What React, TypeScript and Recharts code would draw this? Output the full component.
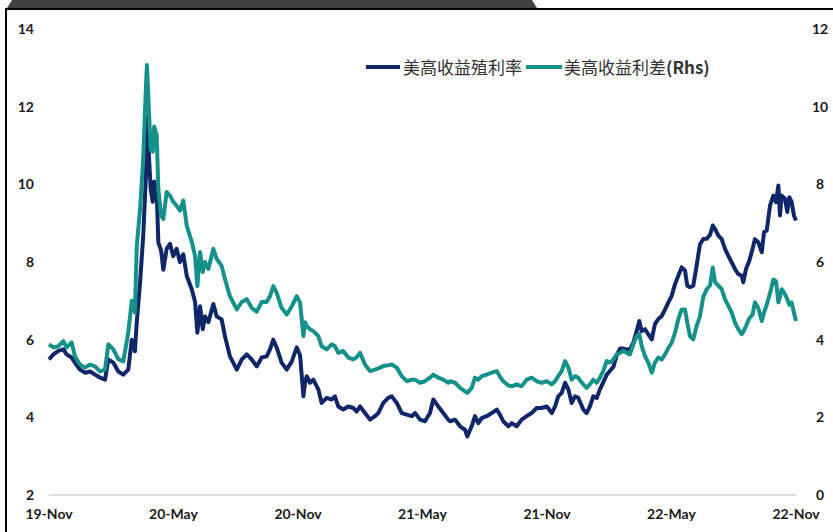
import React from 'react';
import { LineChart, Line, XAxis, YAxis } from 'recharts';

// months since 2019-11 (x position), US HY yield (lhs), US HY spread (rhs)
const months = [
  0, 0.21, 0.45, 0.69, 0.85, 1.09, 1.25, 1.49, 1.73, 1.98, 2.22, 2.46, 2.7, 2.86, 3.1, 3.34, 3.58, 3.82, 3.99, 4.14,
  4.23, 4.39, 4.54, 4.67, 4.72, 4.79, 4.9, 5.0, 5.07, 5.19, 5.27, 5.4, 5.51, 5.67, 5.83, 5.99, 6.15, 6.31, 6.47, 6.64,
  6.88, 7.04, 7.15, 7.28, 7.41, 7.52, 7.68, 7.92, 8.08, 8.32, 8.48, 8.72, 9.05, 9.29, 9.53, 9.77, 10.01, 10.25, 10.49, 10.65,
  10.81, 10.97, 11.21, 11.46, 11.7, 11.94, 12.1, 12.26, 12.34, 12.42, 12.58, 12.74, 12.98, 13.14, 13.38, 13.62, 13.78, 13.94, 14.18, 14.42,
  14.67, 14.83, 14.99, 15.23, 15.47, 15.71, 15.87, 16.11, 16.35, 16.52, 16.76, 17.0, 17.24, 17.48, 17.64, 17.88, 18.12, 18.36, 18.52, 18.76,
  19.0, 19.24, 19.33, 19.57, 19.81, 20.05, 20.16, 20.37, 20.53, 20.69, 20.85, 21.09, 21.34, 21.58, 21.73, 21.89, 22.14, 22.3, 22.54, 22.78,
  23.02, 23.26, 23.5, 23.74, 23.99, 24.23, 24.39, 24.54, 24.71, 24.87, 25.03, 25.19, 25.35, 25.51, 25.59, 25.75, 25.91, 26.07, 26.23, 26.4,
  26.55, 26.71, 26.88, 27.04, 27.2, 27.36, 27.52, 27.68, 27.84, 28.0, 28.16, 28.32, 28.45, 28.56, 28.72, 28.88, 29.05, 29.2, 29.36, 29.53,
  29.69, 29.85, 30.01, 30.17, 30.33, 30.49, 30.65, 30.76, 30.89, 31.05, 31.21, 31.37, 31.53, 31.7, 31.86, 31.99, 32.1, 32.26, 32.42, 32.58,
  32.74, 32.9, 33.06, 33.22, 33.38, 33.46, 33.59, 33.75, 33.91, 34.02, 34.18, 34.35, 34.46, 34.59, 34.75, 34.91, 35.04, 35.15, 35.23, 35.31,
  35.47, 35.58, 35.68, 35.79, 35.9, 36.0,
];

const hyYield = [
  5.49, 5.62, 5.71, 5.75, 5.62, 5.54, 5.41, 5.23, 5.15, 5.18, 5.1, 5.02, 4.97, 5.49, 5.41, 5.18, 5.1, 5.23, 6.0, 5.7,
  6.45, 7.48, 8.67, 10.2, 11.75, 11.0, 9.88, 9.55, 10.07, 9.8, 8.5, 8.3, 7.8, 8.34, 8.47, 8.15, 8.34, 8.0, 8.2, 7.64,
  7.3, 6.97, 6.18, 6.86, 6.27, 6.6, 6.45, 6.92, 6.6, 6.52, 6.09, 5.57, 5.23, 5.49, 5.62, 5.49, 5.31, 5.54, 5.57, 5.75,
  6.0, 5.8, 5.41, 5.23, 5.44, 5.8, 5.6, 4.54, 4.9, 5.06, 4.89, 4.97, 4.72, 4.37, 4.5, 4.46, 4.54, 4.28, 4.2, 4.28,
  4.24, 4.15, 4.28, 4.11, 3.94, 4.03, 4.11, 4.37, 4.5, 4.54, 4.37, 4.11, 4.07, 4.03, 4.11, 3.94, 3.9, 4.11, 4.46, 4.28,
  4.11, 3.94, 3.9, 3.94, 3.77, 3.68, 3.51, 3.77, 4.03, 3.85, 3.98, 4.03, 4.11, 4.2, 4.07, 3.9, 3.77, 3.85, 3.77, 3.94,
  4.03, 4.11, 4.24, 4.24, 4.28, 4.11, 4.28, 4.54, 4.63, 4.89, 4.72, 4.37, 4.54, 4.5, 4.4, 4.2, 4.11, 4.28, 4.54, 4.5,
  4.72, 4.9, 5.1, 5.2, 5.3, 5.6, 5.77, 5.77, 5.75, 5.75, 5.92, 6.22, 6.48, 6.22, 6.27, 6.14, 6.01, 6.4, 6.53, 6.61,
  6.78, 6.96, 7.13, 7.43, 7.65, 7.86, 7.78, 7.39, 7.35, 7.39, 7.9, 8.45, 8.59, 8.6, 8.7, 8.94, 8.85, 8.68, 8.59, 8.34,
  8.16, 7.99, 7.82, 7.69, 7.65, 7.48, 7.82, 8.03, 8.34, 8.59, 8.51, 8.25, 8.77, 8.81, 9.46, 9.71, 9.54, 9.97, 9.2, 9.71,
  9.63, 9.29, 9.67, 9.54, 9.2, 9.07,
];

const hySpread = [
  3.88, 3.8, 3.83, 3.96, 3.8, 3.93, 3.57, 3.36, 3.28, 3.36, 3.31, 3.18, 3.23, 3.88, 3.75, 3.5, 3.44, 4.18, 5.0, 4.7,
  6.41, 7.37, 8.66, 10.5, 11.07, 10.2, 8.9, 8.84, 9.49, 9.26, 7.88, 7.19, 7.11, 7.8, 7.71, 7.55, 7.45, 7.32, 7.58, 6.93,
  6.52, 6.15, 5.38, 6.26, 5.74, 6.0, 5.82, 6.34, 6.08, 5.9, 5.56, 5.12, 4.78, 4.97, 5.04, 4.82, 4.72, 4.97, 4.97, 5.12,
  5.38, 5.21, 4.82, 4.65, 4.86, 5.12, 4.95, 4.09, 4.45, 4.35, 4.27, 4.22, 4.09, 3.83, 3.75, 3.88, 3.83, 3.66, 3.71, 3.54,
  3.49, 3.55, 3.66, 3.36, 3.19, 3.23, 3.26, 3.32, 3.34, 3.36, 3.28, 3.06, 2.93, 2.97, 2.97, 2.89, 2.93, 3.02, 3.1, 3.02,
  2.97, 2.89, 2.93, 2.89, 2.76, 2.67, 2.63, 2.76, 3.02, 2.97, 3.06, 3.1, 3.15, 3.19, 3.05, 2.93, 2.82, 2.8, 2.85, 2.8,
  2.97, 3.02, 2.93, 2.89, 2.93, 2.85, 2.93, 3.06, 3.19, 3.45, 3.28, 2.97, 3.06, 3.02, 2.95, 2.85, 2.76, 2.85, 2.97, 2.89,
  3.02, 3.19, 3.45, 3.41, 3.49, 3.62, 3.66, 3.71, 3.66, 3.62, 3.88, 4.09, 4.14, 3.84, 3.58, 3.41, 3.15, 3.41, 3.54, 3.49,
  3.62, 3.79, 3.92, 4.18, 4.53, 4.78, 4.78, 4.44, 4.09, 4.01, 4.35, 4.6, 5.1, 5.3, 5.4, 5.86, 5.48, 5.39, 5.3, 5.04,
  4.87, 4.7, 4.44, 4.27, 4.14, 4.2, 4.35, 4.55, 4.65, 4.96, 4.82, 4.48, 4.7, 4.9, 5.2, 5.55, 5.5, 4.96, 5.1, 5.3,
  5.17, 5.04, 4.9, 4.96, 4.7, 4.48,
];

const xTicks = [0, 6, 12, 18, 24, 30, 36];
const xTickLabels = ['19-Nov', '20-May', '20-Nov', '21-May', '21-Nov', '22-May', '22-Nov'];
const leftTicks = [2, 4, 6, 8, 10, 12, 14];
const rightTicks = [0, 2, 4, 6, 8, 10, 12];
const seriesNames = ['美高收益殖利率', '美高收益利差'];

const NAVY = '#0f2769';
const TEAL = '#16918a';

const data = months.map((m, i) => ({ m, yield: hyYield[i], spread: hySpread[i] }));

const tickFont = { fontFamily: 'Lato, "Noto Sans", sans-serif', fontWeight: 700, fontSize: 14, fill: '#1a1a1a' };

const LegendBox = () => (
  <div
    style={{
      position: 'absolute',
      left: 366,
      top: 55,
      display: 'flex',
      alignItems: 'center',
      fontFamily: '"Noto Sans CJK SC", "Noto Sans", sans-serif',
      fontSize: 17,
      lineHeight: '24px',
      color: '#333333',
      whiteSpace: 'nowrap',
    }}
  >
    <span style={{ display: 'inline-block', width: 34, height: 4, background: NAVY, marginRight: 3 }} />
    <span>{seriesNames[0]}</span>
    <span style={{ display: 'inline-block', width: 36, height: 4, background: TEAL, marginLeft: 4, marginRight: 2 }} />
    <span>
      {seriesNames[1]}
      <b>(Rhs)</b>
    </span>
  </div>
);

export default function App() {
  return (
    <div style={{ position: 'absolute', left: 0, top: 0, width: 833, height: 532, background: '#fff', overflow: 'hidden' }}>
      <svg width={833} height={532} style={{ position: 'absolute', left: 0, top: 0 }}>
        <polygon points="12,0 532,0 537,8 7,8" fill="#404040" />
        <rect x={5} y={8} width={828} height={2} fill="#000" />
        <rect x={5} y={8} width={2} height={524} fill="#000" />
      </svg>
      <div style={{ position: 'absolute', left: 0, top: 0 }}>
        <LineChart width={833} height={532} data={data} margin={{ top: 29, right: 0, bottom: 7, left: 0 }}>
          <XAxis
            dataKey="m"
            type="number"
            domain={[0, 36]}
            ticks={xTicks}
            interval={0}
            tickFormatter={(v: number) => xTickLabels[xTicks.indexOf(v)] ?? ''}
            axisLine={{ stroke: '#dcdcdc', strokeWidth: 2 }}
            tickLine={false}
            tickSize={0}
            tickMargin={14}
            height={30}
            tick={tickFont}
          />
          <YAxis
            yAxisId="left"
            orientation="left"
            domain={[2, 14]}
            ticks={leftTicks}
            interval={0}
            axisLine={false}
            tickLine={false}
            tickSize={0}
            tickMargin={15}
            width={49}
            tick={tickFont}
          />
          <YAxis
            yAxisId="right"
            orientation="right"
            domain={[0, 12]}
            ticks={rightTicks}
            interval={0}
            axisLine={false}
            tickLine={false}
            tickSize={0}
            tickMargin={24}
            width={37}
            tick={{ ...tickFont, textAnchor: 'middle' }}
          />
          <Line
            yAxisId="left"
            type="linear"
            dataKey="yield"
            name={seriesNames[0]}
            stroke={NAVY}
            strokeWidth={4}
            strokeLinejoin="round"
            dot={false}
            isAnimationActive={false}
          />
          <Line
            yAxisId="right"
            type="linear"
            dataKey="spread"
            name={seriesNames[1]}
            stroke={TEAL}
            strokeWidth={4}
            strokeLinejoin="round"
            dot={false}
            isAnimationActive={false}
          />
        </LineChart>
      </div>
      <LegendBox />
    </div>
  );
}
